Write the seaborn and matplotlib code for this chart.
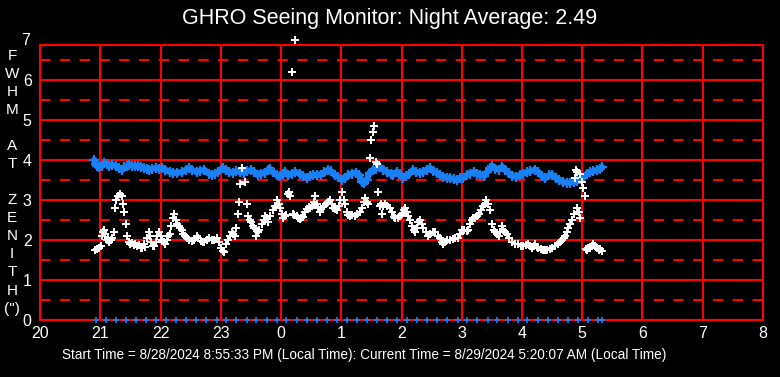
import numpy as np
import pandas as pd
import seaborn as sns
import matplotlib.pyplot as plt

# --- data (hours since midnight of start day; 24+ = next morning) ---
white_t = [20.92, 20.95, 20.98, 21.01, 21.03, 21.05, 21.06, 21.08, 21.11, 21.13, 21.15, 21.18,
           21.20, 21.23, 21.25, 21.26, 21.30, 21.33, 21.36, 21.38, 21.40, 21.43, 21.45, 21.48,
           21.50, 21.53, 21.56, 21.58, 21.61, 21.65, 21.68, 21.70, 21.73, 21.75, 21.78, 21.81,
           21.83, 21.85, 21.88, 21.90, 21.93, 21.95, 21.98, 22.00, 22.03, 22.06, 22.08, 22.10,
           22.13, 22.15, 22.18, 22.21, 22.23, 22.26, 22.28, 22.31, 22.33, 22.36, 22.38, 22.41,
           22.44, 22.48, 22.52, 22.56, 22.60, 22.63, 22.67, 22.70, 22.73, 22.77, 22.81, 22.85,
           22.89, 22.93, 22.97, 23.01, 23.04, 23.06, 23.09, 23.12, 23.15, 23.18, 23.21, 23.23,
           23.25, 23.28, 23.30, 23.32, 23.36, 23.40, 23.44, 23.46, 23.48, 23.51, 23.54, 23.56,
           23.59, 23.62, 23.64, 23.68, 23.71, 23.73, 23.76, 23.78, 23.82, 23.86, 23.90, 23.93,
           23.96, 23.98, 24.01, 24.03, 24.06, 24.09, 24.11, 24.13, 24.15, 24.18, 24.20, 24.22,
           24.24, 24.26, 24.28, 24.31, 24.34, 24.36, 24.40, 24.43, 24.46, 24.48, 24.51, 24.54,
           24.56, 24.59, 24.62, 24.64, 24.67, 24.69, 24.72, 24.75, 24.78, 24.81, 24.84, 24.86,
           24.89, 24.93, 24.96, 24.98, 25.01, 25.04, 25.06, 25.09, 25.12, 25.14, 25.18, 25.22,
           25.26, 25.31, 25.34, 25.37, 25.39, 25.42, 25.44, 25.47, 25.50, 25.52, 25.55, 25.57,
           25.59, 25.61, 25.64, 25.66, 25.67, 25.70, 25.72, 25.76, 25.81, 25.84, 25.87, 25.90,
           25.94, 25.97, 26.00, 26.04, 26.06, 26.09, 26.11, 26.14, 26.17, 26.20, 26.22, 26.25,
           26.28, 26.31, 26.34, 26.36, 26.40, 26.44, 26.48, 26.52, 26.56, 26.60, 26.64, 26.67,
           26.69, 26.72, 26.76, 26.81, 26.85, 26.89, 26.93, 26.97, 27.00, 27.04, 27.08, 27.11,
           27.14, 27.17, 27.19, 27.22, 27.25, 27.28, 27.32, 27.35, 27.38, 27.41, 27.44, 27.47,
           27.50, 27.53, 27.55, 27.58, 27.61, 27.64, 27.67, 27.69, 27.72, 27.75, 27.79, 27.84,
           27.89, 27.94, 27.98, 28.02, 28.06, 28.10, 28.14, 28.17, 28.20, 28.22, 28.25, 28.27,
           28.31, 28.35, 28.39, 28.42, 28.46, 28.50, 28.55, 28.59, 28.63, 28.67, 28.70, 28.72,
           28.75, 28.77, 28.80, 28.83, 28.86, 28.88, 28.89, 28.91, 28.92, 28.94, 28.96, 28.97,
           29.00, 29.02, 29.04, 29.06, 29.08, 29.10, 29.13, 29.16, 29.18, 29.21, 29.24, 29.27,
           29.30, 29.33]
white_v = [1.75, 1.78, 1.80, 1.85, 2.10, 2.20, 2.25, 2.15, 2.00, 2.05, 1.95, 2.00,
           2.05, 2.20, 2.80, 3.00, 3.10, 3.15, 3.10, 2.90, 2.70, 2.40, 2.10, 1.95,
           1.90, 1.92, 1.88, 1.90, 1.85, 1.88, 1.80, 1.80, 1.90, 1.82, 2.05, 2.20,
           2.10, 1.95, 1.85, 1.85, 1.95, 2.10, 2.20, 2.10, 2.00, 1.95, 1.90, 2.00,
           2.10, 2.15, 2.35, 2.55, 2.65, 2.50, 2.40, 2.35, 2.30, 2.25, 2.15, 2.10,
           2.05, 2.00, 1.98, 2.00, 2.10, 2.05, 1.98, 1.95, 1.95, 2.00, 2.05, 2.00,
           2.00, 2.05, 1.95, 1.80, 1.72, 1.70, 1.90, 2.00, 2.10, 2.20, 2.15, 2.10,
           2.30, 2.65, 2.95, 3.40, 3.80, 3.45, 2.90, 2.60, 2.50, 2.45, 2.35, 2.30,
           2.10, 2.20, 2.25, 2.40, 2.50, 2.60, 2.55, 2.45, 2.60, 2.75, 2.85, 3.00,
           2.90, 2.80, 2.65, 2.55, 2.60, 2.62, 3.15, 3.20, 3.10, 6.20, 2.65, 2.62,
           7.00, 2.60, 2.55, 2.52, 2.55, 2.58, 2.70, 2.78, 2.82, 2.80, 2.85, 2.95,
           3.10, 2.90, 2.80, 2.70, 2.78, 2.82, 2.85, 2.90, 2.95, 3.00, 2.90, 2.80,
           2.78, 2.75, 2.85, 3.00, 3.20, 3.00, 2.90, 2.70, 2.62, 2.60, 2.62, 2.60,
           2.65, 2.70, 2.80, 2.95, 3.05, 2.95, 2.90, 4.05, 4.50, 4.70, 4.85, 3.95,
           3.90, 3.20, 2.85, 2.90, 2.65, 2.85, 2.90, 2.85, 2.80, 2.70, 2.58, 2.55,
           2.55, 2.60, 2.65, 2.75, 2.80, 2.70, 2.60, 2.50, 2.35, 2.25, 2.20, 2.30,
           2.45, 2.50, 2.40, 2.30, 2.20, 2.10, 2.15, 2.20, 2.20, 2.10, 2.05, 1.95,
           1.90, 1.95, 2.00, 2.00, 2.02, 2.05, 2.05, 2.15, 2.25, 2.25, 2.22, 2.25,
           2.40, 2.50, 2.55, 2.55, 2.60, 2.65, 2.75, 2.85, 2.90, 3.00, 2.90, 2.75,
           2.40, 2.25, 2.20, 2.15, 2.10, 2.20, 2.35, 2.25, 2.20, 2.15, 2.05, 1.95,
           1.90, 1.90, 1.85, 1.85, 1.88, 1.90, 1.85, 1.80, 1.85, 1.90, 1.82, 1.80,
           1.78, 1.75, 1.75, 1.75, 1.78, 1.80, 1.85, 1.90, 1.95, 2.00, 2.05, 2.10,
           2.20, 2.30, 2.40, 2.50, 2.65, 3.55, 3.75, 2.80, 3.70, 2.70, 3.65, 2.55,
           3.45, 3.30, 3.10, 1.78, 1.75, 1.80, 1.80, 1.85, 1.90, 1.85, 1.80, 1.75,
           1.78, 1.72]

blue_t = [20.90, 20.93, 20.95, 20.98, 21.03, 21.07, 21.11, 21.15, 21.20, 21.26, 21.31, 21.36,
          21.40, 21.45, 21.48, 21.53, 21.58, 21.63, 21.68, 21.73, 21.78, 21.81, 21.86, 21.93,
          21.98, 22.03, 22.08, 22.15, 22.21, 22.28, 22.36, 22.42, 22.48, 22.53, 22.60, 22.66,
          22.73, 22.80, 22.85, 22.90, 22.95, 23.03, 23.08, 23.14, 23.20, 23.26, 23.32, 23.38,
          23.44, 23.51, 23.56, 23.61, 23.66, 23.73, 23.78, 23.81, 23.86, 23.93, 23.98, 24.03,
          24.07, 24.12, 24.18, 24.24, 24.31, 24.37, 24.43, 24.48, 24.53, 24.60, 24.66, 24.72,
          24.78, 24.83, 24.89, 24.95, 25.01, 25.06, 25.12, 25.18, 25.24, 25.30, 25.34, 25.38,
          25.42, 25.47, 25.52, 25.58, 25.64, 25.70, 25.76, 25.82, 25.86, 25.92, 25.97, 26.02,
          26.07, 26.13, 26.19, 26.24, 26.30, 26.36, 26.42, 26.47, 26.53, 26.59, 26.64, 26.69,
          26.75, 26.81, 26.87, 26.92, 26.97, 27.02, 27.08, 27.14, 27.20, 27.26, 27.31, 27.37,
          27.42, 27.47, 27.51, 27.56, 27.61, 27.67, 27.72, 27.78, 27.84, 27.90, 27.96, 28.02,
          28.08, 28.14, 28.21, 28.27, 28.33, 28.39, 28.45, 28.50, 28.56, 28.62, 28.68, 28.74,
          28.80, 28.86, 28.92, 28.97, 29.02, 29.08, 29.13, 29.18, 29.24, 29.30, 29.33]
blue_v = [4.00, 3.90, 3.85, 3.82, 3.85, 3.92, 3.90, 3.85, 3.88, 3.85, 3.80, 3.75,
          3.82, 3.86, 3.88, 3.86, 3.84, 3.86, 3.83, 3.80, 3.78, 3.75, 3.78, 3.80,
          3.78, 3.80, 3.76, 3.70, 3.68, 3.68, 3.70, 3.75, 3.80, 3.75, 3.70, 3.73,
          3.75, 3.66, 3.63, 3.66, 3.70, 3.80, 3.74, 3.70, 3.68, 3.72, 3.70, 3.68,
          3.72, 3.75, 3.70, 3.63, 3.66, 3.68, 3.75, 3.78, 3.70, 3.62, 3.60, 3.66,
          3.70, 3.62, 3.66, 3.70, 3.66, 3.60, 3.55, 3.60, 3.63, 3.62, 3.63, 3.70,
          3.75, 3.72, 3.63, 3.58, 3.50, 3.56, 3.63, 3.66, 3.68, 3.62, 3.45, 3.42,
          3.50, 3.68, 3.75, 3.78, 3.83, 3.76, 3.70, 3.65, 3.63, 3.70, 3.66, 3.56,
          3.60, 3.66, 3.75, 3.70, 3.68, 3.70, 3.76, 3.80, 3.72, 3.68, 3.62, 3.58,
          3.56, 3.55, 3.52, 3.50, 3.55, 3.56, 3.62, 3.66, 3.70, 3.66, 3.63, 3.60,
          3.70, 3.80, 3.85, 3.78, 3.76, 3.83, 3.75, 3.68, 3.60, 3.58, 3.62, 3.66,
          3.70, 3.72, 3.76, 3.70, 3.60, 3.55, 3.62, 3.63, 3.56, 3.50, 3.45, 3.43,
          3.43, 3.45, 3.47, 3.52, 3.56, 3.65, 3.70, 3.72, 3.75, 3.78, 3.82]

# 10-minute flags drawn along the bottom
flag_t = [20.93, 21.09, 21.26, 21.43, 21.59, 21.76, 21.93, 22.09, 22.26, 22.43, 22.59,
          22.76, 22.93, 23.09, 23.26, 23.43, 23.59, 23.76, 23.93, 24.09, 24.26, 24.43,
          24.59, 24.76, 24.93, 25.09, 25.26, 25.43, 25.59, 25.76, 25.93, 26.09, 26.26,
          26.43, 26.59, 26.76, 26.93, 27.09, 27.26, 27.43, 27.59, 27.76, 27.93, 28.09,
          28.26, 28.43, 28.59, 28.76, 28.93, 29.09, 29.26, 29.33]
flag_v = [0.0] * len(flag_t)

x_ticks = list(range(20, 33))
x_labels = ['20', '21', '22', '23', '0', '1', '2', '3', '4', '5', '6', '7', '8']
y_ticks = [0, 1, 2, 3, 4, 5, 6]

title = 'GHRO Seeing Monitor: Night Average: 2.49'
footer = ('Start Time = 8/28/2024 8:55:33 PM (Local Time): '
          'Current Time = 8/29/2024 5:20:07 AM (Local Time)')
ylabel = 'F\nW\nH\nM\n\nA\nT\n\nZ\nE\nN\nI\nT\nH\n(")'

white = pd.DataFrame({'t': white_t, 'v': white_v})
blue = pd.DataFrame({'t': blue_t, 'v': blue_v})
flags = pd.DataFrame({'t': flag_t, 'v': flag_v})

BLUE = '#1a80f5'
RED = '#ff0000'

sns.set_theme(style='dark', rc={'figure.facecolor': 'black', 'axes.facecolor': 'black'})
plt.rcParams['font.family'] = ['Liberation Sans', 'DejaVu Sans']

fig = plt.figure(figsize=(7.8, 3.77), dpi=100)
ax = fig.add_axes([0.0513, 0.1512, 0.9269, 0.7294])

# grid
for x in x_ticks:
    ax.axvline(x, color=RED, lw=1.5, zorder=1)
for y in y_ticks:
    ax.axhline(y, color=RED, lw=1.5, zorder=1)
for y in np.arange(0.5, 7, 1.0):
    ax.axhline(y, color=RED, lw=1.5, dashes=(5, 4.5), zorder=1)

# blue band
sns.lineplot(data=blue, x='t', y='v', ax=ax, color=BLUE, lw=4.5, zorder=3, estimator=None)
sns.scatterplot(data=blue, x='t', y='v', ax=ax, color=BLUE, marker='+', s=60,
                linewidth=1.6, zorder=3)
# white seeing values
sns.scatterplot(data=white, x='t', y='v', ax=ax, color='white', marker='+', s=40,
                linewidth=1.4, zorder=4, clip_on=False)
# bottom flags
sns.scatterplot(data=flags, x='t', y='v', ax=ax, color=BLUE, marker='+', s=22,
                linewidth=1.2, zorder=4, clip_on=False)

ax.set_xlim(20, 32)
ax.set_ylim(0, 6.875)
ax.set_xticks(x_ticks)
ax.set_xticklabels(x_labels)
ax.set_yticks(y_ticks)
ax.tick_params(colors='white', labelsize=11.5, length=0)
ax.tick_params(axis='y', pad=6)
ax.tick_params(axis='x', pad=4)
ax.text(-0.014, 7, '7', transform=ax.get_yaxis_transform(), ha='right', va='center',
        color='white', fontsize=11.5)
for sp in ax.spines.values():
    sp.set_color(RED)
    sp.set_linewidth(1.5)
ax.set_xlabel('')
ax.set_ylabel('')

fig.text(0.5, 0.952, title, ha='center', va='center', color='white', fontsize=15.5)
fig.text(0.467, 0.058, footer, ha='center', va='center', color='white', fontsize=9.8)
fig.text(0.0154, 0.517, ylabel, ha='center', va='center', color='white', fontsize=11,
         linespacing=1.37)

fig.savefig('out.png', dpi=100, facecolor='black')
